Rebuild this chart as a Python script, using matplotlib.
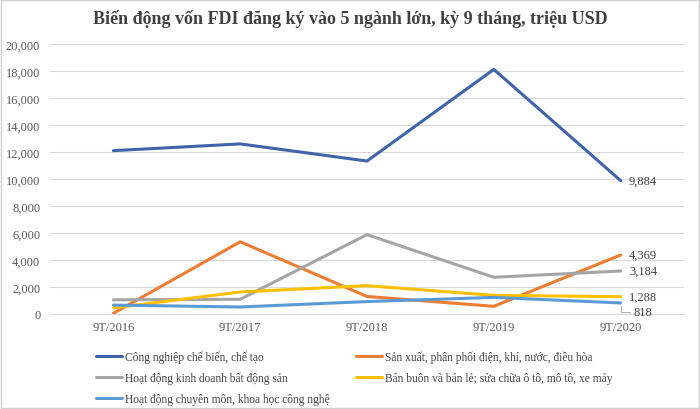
import matplotlib
matplotlib.use("Agg")
import matplotlib.pyplot as plt
from matplotlib.ticker import FuncFormatter

plt.rcParams['font.family'] = ['Liberation Serif', 'DejaVu Serif']

# data (million USD)
years = ["9T/2016", "9T/2017", "9T/2018", "9T/2019", "9T/2020"]
cn_chebien = [12100, 12600, 11330, 18120, 9884]
sx_dien = [50, 5350, 1300, 570, 4369]
bds = [1050, 1090, 5880, 2720, 3184]
ban_buon = [450, 1630, 2100, 1380, 1288]
khcn = [660, 520, 920, 1230, 818]

names = ["Công nghiệp chế biến, chế tạo",
         "Sản xuất, phân phối điện, khí, nước, điều hòa",
         "Hoạt động kinh doanh bất động sản",
         "Bán buôn và bán lẻ; sửa chữa ô tô, mô tô, xe máy",
         "Hoạt động chuyên môn, khoa học công nghệ"]
series = [cn_chebien, sx_dien, bds, ban_buon, khcn]
colors = ["#4064AC", "#ED7D31", "#A5A5A5", "#FFC000", "#5B9BD5"]

fig = plt.figure(figsize=(7, 4.1), dpi=100)
ax = fig.add_axes([50/700, 1-315/410, 634/700, 270/410])
x = list(range(len(years)))
lines = []
for s, c, n in zip(series, colors, names):
    ln, = ax.plot(x, s, color=c, lw=2.2, label=n, solid_capstyle="round")
    lines.append(ln)

ax.set_xlim(-0.5, len(years)-0.5)
ax.set_ylim(0, 20000)
ax.set_yticks(range(0, 20001, 2000))
ax.yaxis.set_major_formatter(FuncFormatter(lambda v, p: f"{int(v):,}"))
ax.set_xticks(x)
ax.set_xticklabels(years)
ax.tick_params(axis="both", length=0, labelsize=9, colors="#595959")
ax.tick_params(axis="y", pad=7)
ax.tick_params(axis="x", pad=5)
ax.grid(axis="y", color="#D9D9D9", lw=0.8)
ax.set_axisbelow(True)
for sp in ["top", "right", "left"]:
    ax.spines[sp].set_visible(False)
ax.spines["bottom"].set_color("#D9D9D9")

# end labels
last = len(years) - 1
for s in [cn_chebien, sx_dien, bds, ban_buon]:
    ax.annotate(f"{s[-1]:,}", (last, s[-1]), xytext=(6, 0), textcoords="offset points",
                va="center", ha="left", fontsize=9, color="#404040")
ax.annotate(f"{khcn[-1]:,}", (last, khcn[-1]), xytext=(9, -6.5), textcoords="offset points",
            va="center", ha="left", fontsize=9, color="#404040",
            arrowprops=dict(arrowstyle="-", color="#A5A5A5", lw=0.6,
                            connectionstyle="angle,angleA=0,angleB=90,rad=0",
                            shrinkA=0, shrinkB=2))

fig.text(0.5, 1-19/410, "Biến động vốn FDI đăng ký vào 5 ngành lớn, kỳ 9 tháng, triệu USD",
         ha="center", va="center", fontsize=13, fontweight="bold", color="#404040")

order = [0, 2, 4, 1, 3]
leg = fig.legend([lines[i] for i in order], [names[i] for i in order],
                 loc="upper left", bbox_to_anchor=(86/700, 1-341/410), ncol=2,
                 frameon=False, fontsize=8.3, handlelength=2.2, handletextpad=0.3,
                 columnspacing=2.3, labelspacing=0.78, labelcolor="#404040")

fig.patches.append(plt.Rectangle((0.002, 0.002), 0.996, 0.996, transform=fig.transFigure,
                                 fill=False, edgecolor="#D0D0D0", lw=1))

fig.savefig("out.png", dpi=100)
